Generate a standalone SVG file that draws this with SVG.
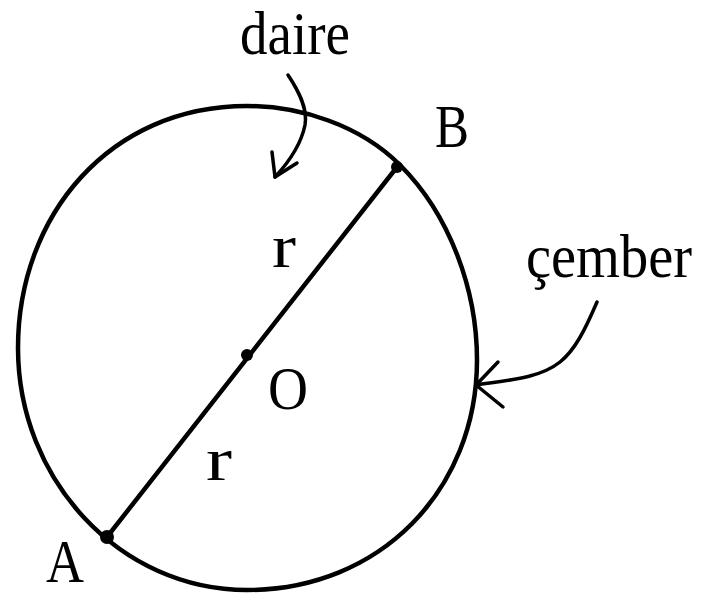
<svg xmlns="http://www.w3.org/2000/svg" width="707" height="595" viewBox="0 0 707 595">
<style>
.ln{fill:none;stroke:#000;stroke-width:4.5;stroke-linecap:round;stroke-linejoin:round}
.ar{fill:none;stroke:#000;stroke-width:3.5;stroke-linecap:round;stroke-linejoin:round}
.t{font-family:"Liberation Serif","Times New Roman",serif;fill:#000;font-size:62px}
.dot{fill:#000}
</style>
<rect width="707" height="595" fill="#fff"/>
<g id="circle">
<path class="ln" d="M247,106 C300,106 360,125 400,165 C450,215 477,290 477,360 C477,490 380,590 247,590 C120,590 18,480 18,348 C18,215 110,106 247,106 Z"/>
</g>
<g id="diameter">
<line class="ln" x1="107" y1="537" x2="397" y2="167" stroke-width="4"/>
</g>
<g id="pointA"><circle class="dot" cx="107" cy="537" r="7"/><text class="t" x="46" y="582" font-size="54" textLength="38" lengthAdjust="spacingAndGlyphs">A</text></g>
<g id="pointB"><circle class="dot" cx="397" cy="167" r="6"/><text class="t" x="435" y="147" font-size="60" textLength="34" lengthAdjust="spacingAndGlyphs">B</text></g>
<g id="pointO"><circle class="dot" cx="247" cy="355" r="6"/><text class="t" x="268" y="409" font-size="60" textLength="40" lengthAdjust="spacingAndGlyphs">O</text></g>
<g id="r1"><text class="t" x="272" y="267" textLength="24" lengthAdjust="spacingAndGlyphs">r</text></g>
<g id="r2"><text class="t" x="206" y="480" textLength="26" lengthAdjust="spacingAndGlyphs">r</text></g>
<g id="daire"><text class="t" x="240" y="54" textLength="110" lengthAdjust="spacingAndGlyphs">daire</text></g>
<g id="cember"><text class="t" x="526" y="277" textLength="166" lengthAdjust="spacingAndGlyphs">çember</text></g>
<g id="connectors">
<path class="ar" d="M288,75 C298,90 308,108 305,125 C301,145 288,163 275,177"/>
<path class="ar" d="M272,152 L275,177 L297,163"/>
<path class="ar" d="M597,302 C585,330 575,350 560,362 C540,378 510,380 476,385"/>
<path class="ar" d="M498,362 L476,385 L503,407"/>
</g>
</svg>
